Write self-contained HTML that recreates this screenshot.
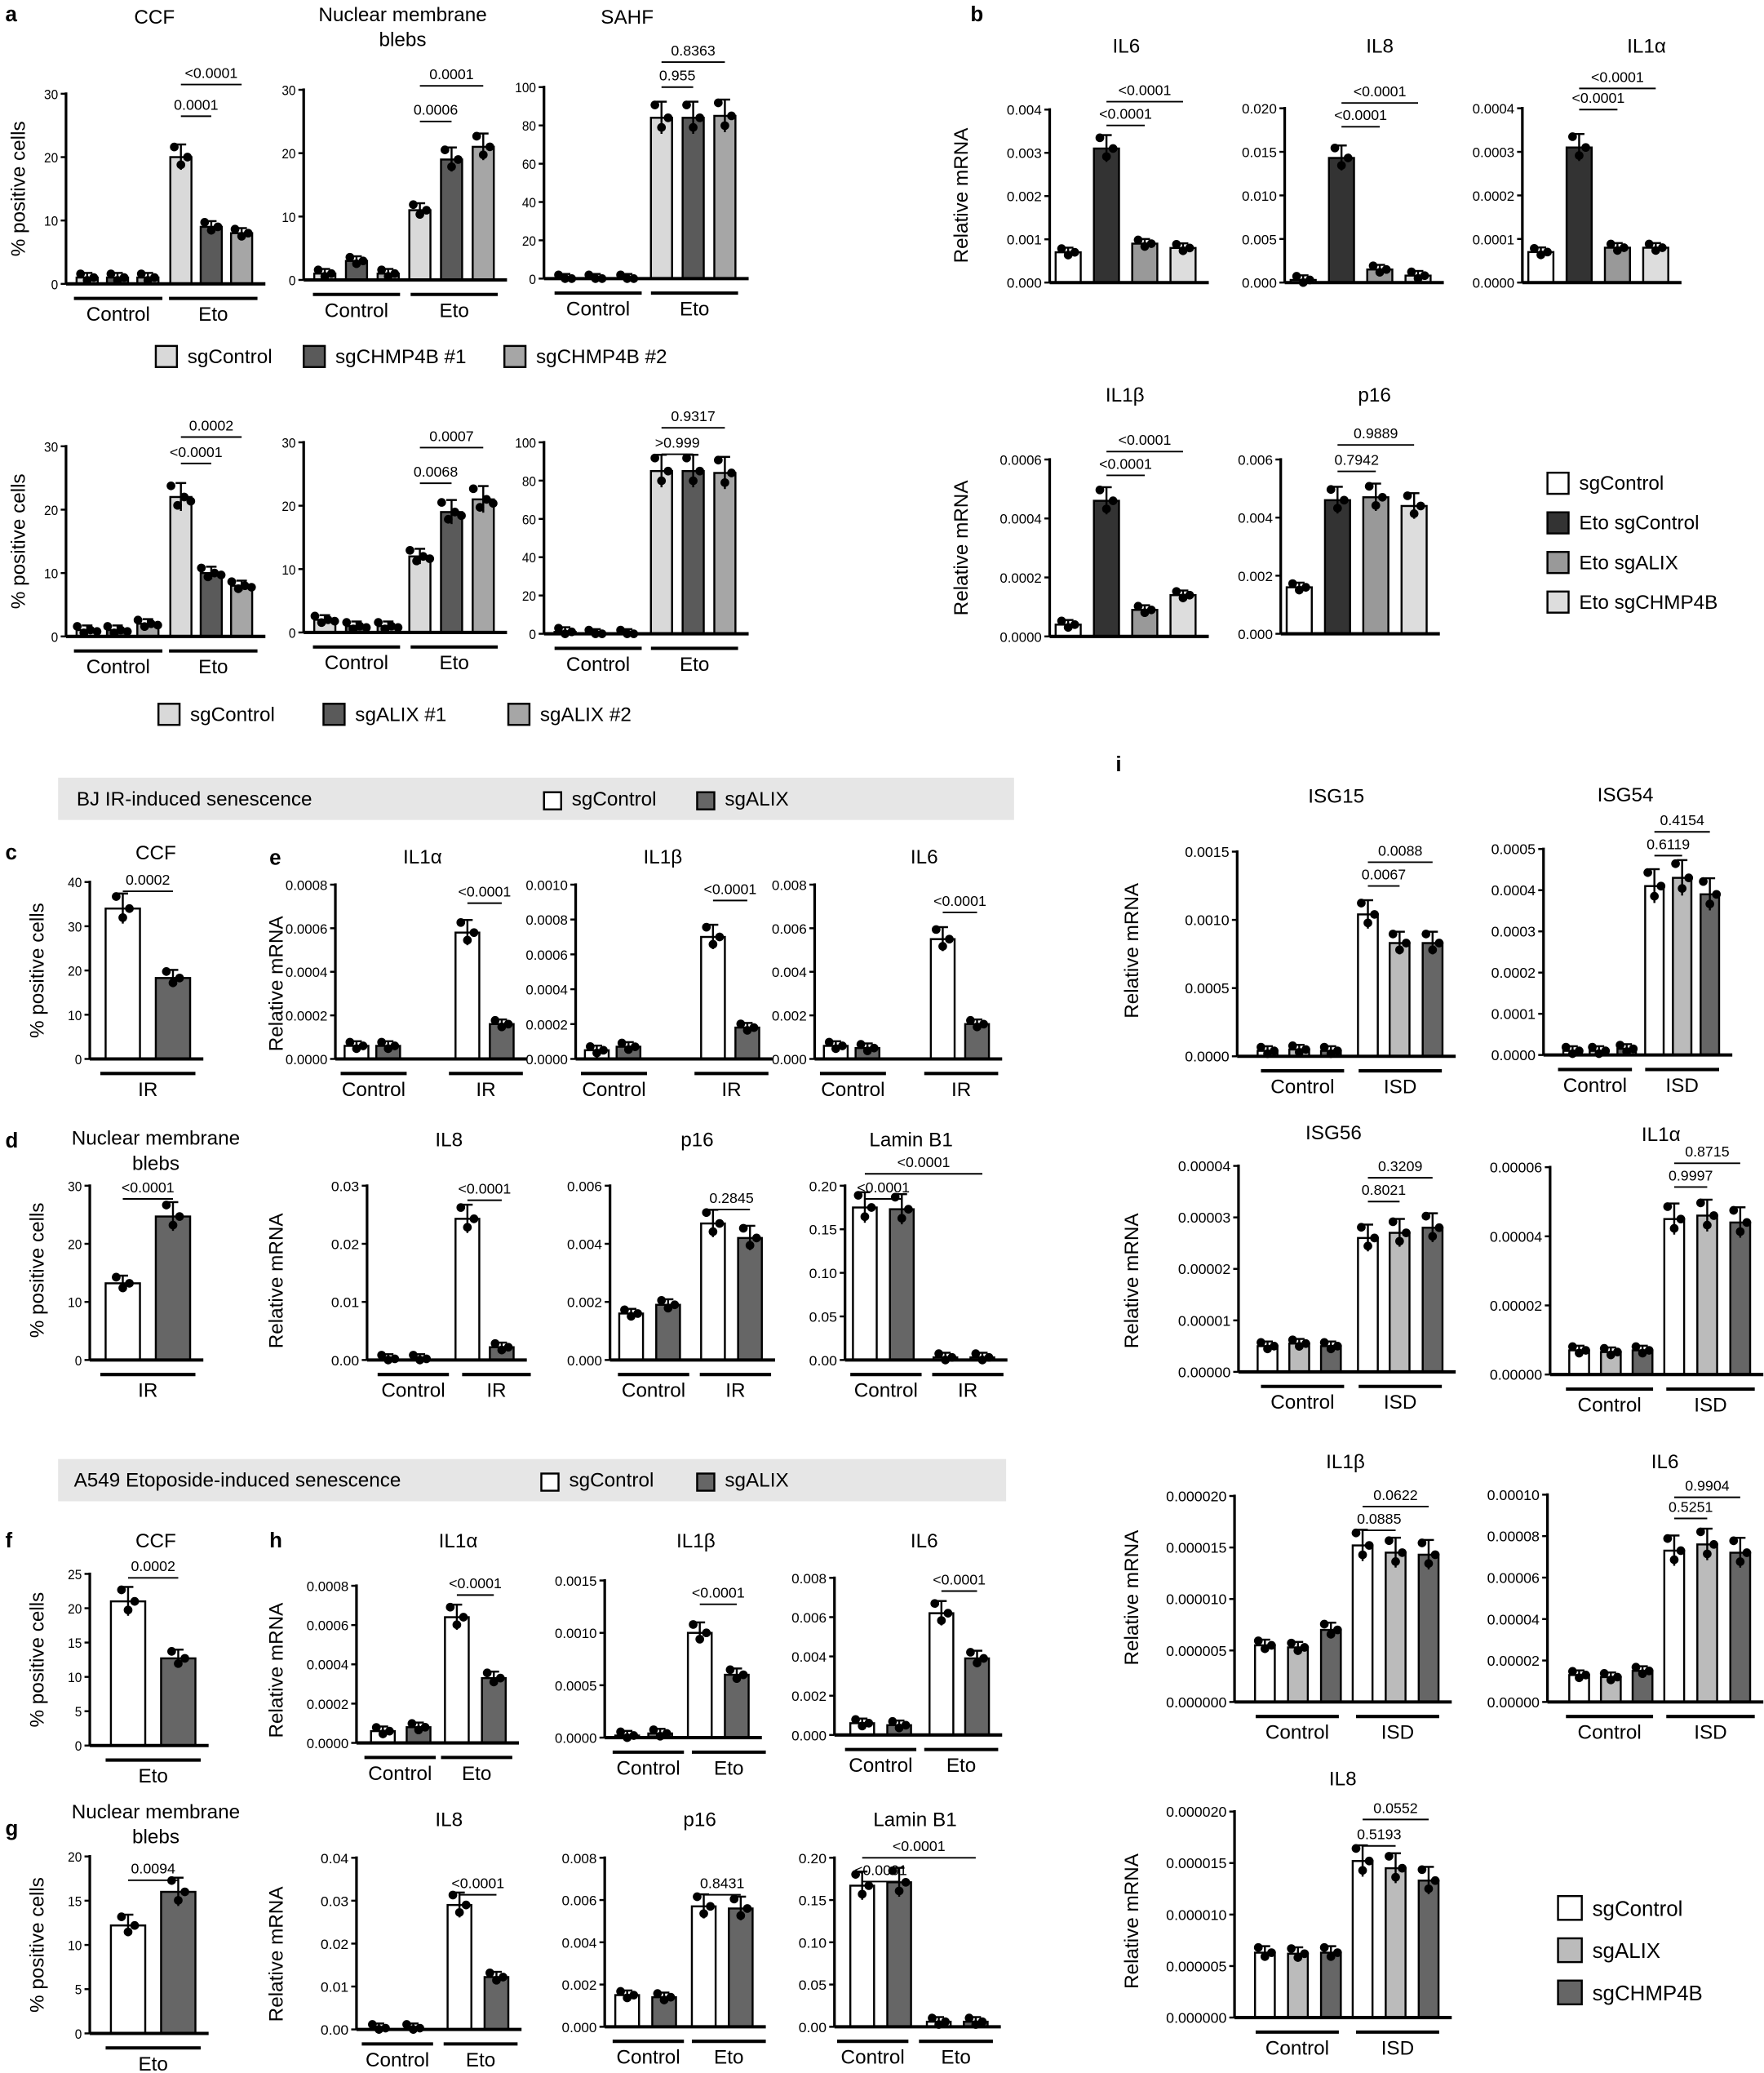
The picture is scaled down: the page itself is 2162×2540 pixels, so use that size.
<!DOCTYPE html>
<html><head><meta charset="utf-8"><style>
html,body{margin:0;padding:0;background:#fff}
svg{display:block}
text{font-family:"Liberation Sans Narrow","Liberation Sans",sans-serif;fill:#000}
</style></head><body>
<svg id="s" width="2162" height="2540" viewBox="0 0 1336 1570" preserveAspectRatio="none" xmlns="http://www.w3.org/2000/svg"></svg>
<script>
const S=document.getElementById('s');let h='';
function T(x,y,t,sz,anc,extra){h+=`<text x="${x}" y="${y}" font-size="${sz}" text-anchor="${anc||'middle'}" ${extra||''}>${t}</text>`;}
function L(x1,y1,x2,y2,w){h+=`<line x1="${x1}" y1="${y1}" x2="${x2}" y2="${y2}" stroke="#000" stroke-width="${w||1.5}"/>`;}
function R(x,y,w,hh,f){h+=`<rect x="${x}" y="${y}" width="${w}" height="${hh}" fill="${f}" stroke="#000" stroke-width="1.5"/>`;}
function C(x,y){h+=`<circle cx="${x}" cy="${y}" r="3.3" fill="#000"/>`;}
function P(o){
  const sc=v=>o.y0-(o.y0-o.y1)*v/o.max;
  const n=o.ticks.length;
  o.ticks.forEach((t,i)=>{const y=o.y0-(o.y0-o.y1)*i/(n-1);L(o.ax-4,y,o.ax,y,1.5);
    const ex=o.fs?'':`textLength="${(t.length*5.3).toFixed(1)}" lengthAdjust="spacingAndGlyphs"`;
    T(o.ax-6,y+4,t,o.fs||10.5,'end',ex);});
  o.xs.forEach((x,i)=>{const v=o.vals[i];const y=sc(v);const bw=o.bw;
    const e=Math.max((o.y0-y)*0.1,3.5);
    if(o.y0-y>1) R(x-bw/2,y,bw,o.y0-y,o.cols[i%o.cols.length]);
    L(x,y-e,x,Math.min(y+e,o.y0),1.5);L(x-4,y-e,x+4,y-e,1.5);
    const nd=o.nd||3;for(let k=0;k<nd;k++){const dx=(k-(nd-1)/2)*5;const dy=[-e*0.8,e*0.6,0,e*0.3][k%4];C(x+dx,Math.min(y+dy,o.y0));}
  });
  L(o.ax,o.y0,o.ax,o.y1-1,2);
  L(o.ax,o.y0,o.xs[o.xs.length-1]+o.bw/2+10,o.y0,2.5);
  (o.groups||[]).forEach(g=>{L(g[0],o.y0+11,g[1],o.y0+11,2.5);T((g[0]+g[1])/2,o.y0+28,g[2],15);});
  (o.sigs||[]).forEach(s=>{L(s[0],s[2],s[1],s[2],1.2);T((s[0]+s[1])/2,s[2]-5,s[3],11);});
  if(o.title){const ts=o.title.split('|');ts.forEach((t,i)=>T(o.tx,o.ty+i*19,t,15));}
}
function YL(x,y,t,sz){T(x,y,t,sz||15,'middle',`transform="rotate(-90 ${x} ${y})"`);}
function LEG(x,y,c,t,sz,s){R(x,y-s+3,s,s,c);T(x+s+8,y,t,sz||15,'start');}
[['a',4,16],['b',735,16],['c',4,651],['d',4,869],['e',204,655],['f',4,1172],['g',4,1390],['h',204,1172],['i',845,584]].forEach(a=>T(a[1],a[2],a[0],16,'start','font-weight="bold" style="font-family:Liberation Sans,sans-serif"'));
const A=['#d9d9d9','#5a5a5a','#a6a6a6'];
P({ax:50,y0:215,y1:71,max:30,ticks:['0','10','20','30'],xs:[66,89,112,137,160,183],vals:[1,1,1,20,9,8],cols:A,bw:16,nd:3,groups:[[56,123,'Control'],[128,195,'Eto']],sigs:[[137,160,88,'0.0001'],[137,183,64,'&lt;0.0001']],title:'CCF',tx:117,ty:18});
P({ax:230,y0:212,y1:68,max:30,ticks:['0','10','20','30'],xs:[246,270,294,318,342,366],vals:[1,3,1,11,19,21],cols:A,bw:16,groups:[[237,303,'Control'],[311,377,'Eto']],sigs:[[318,342,92,'0.0006'],[318,366,65,'0.0001']],title:'Nuclear membrane|blebs',tx:305,ty:16});
P({ax:412,y0:211,y1:66,max:100,ticks:['0','20','40','60','80','100'],xs:[428,451,475,501,525,549],vals:[0,0,0,84,84,85],cols:A,bw:16,groups:[[420,486,'Control'],[493,559,'Eto']],sigs:[[501,525,66,'0.955'],[501,549,47,'0.8363']],title:'SAHF',tx:475,ty:18});
LEG(118,275,A[0],'sgControl',15,16);LEG(230,275,A[1],'sgCHMP4B #1',15,16);LEG(382,275,A[2],'sgCHMP4B #2',15,16);
YL(19,143,'% positive cells',15);
P({ax:50,y0:482,y1:338,max:30,ticks:['0','10','20','30'],xs:[66,89,112,137,160,183],vals:[1,1,2,22,10,8],cols:A,bw:16,nd:4,groups:[[56,123,'Control'],[128,195,'Eto']],sigs:[[137,160,351,'&lt;0.0001'],[137,183,331,'0.0002']]});
P({ax:230,y0:479,y1:335,max:30,ticks:['0','10','20','30'],xs:[246,270,294,318,342,366],vals:[2,1,1,12,19,21],cols:A,bw:16,nd:4,groups:[[237,303,'Control'],[311,377,'Eto']],sigs:[[318,342,366,'0.0068'],[318,366,339,'0.0007']]});
P({ax:412,y0:480,y1:335,max:100,ticks:['0','20','40','60','80','100'],xs:[428,451,475,501,525,549],vals:[1,0,0,85,85,84],cols:A,bw:16,groups:[[420,486,'Control'],[493,559,'Eto']],sigs:[[501,525,344,'&gt;0.999'],[501,549,324,'0.9317']]});
LEG(120,546,A[0],'sgControl',15,16);LEG(245,546,A[1],'sgALIX #1',15,16);LEG(385,546,A[2],'sgALIX #2',15,16);
YL(19,410,'% positive cells',15);
const B=['#fff','#333','#999','#ddd'];
P({ax:795,y0:214,y1:83,max:0.004,ticks:['0.000','0.001','0.002','0.003','0.004'],xs:[809,838,867,896],vals:[.0007,.0031,.0009,.0008],cols:B,bw:19,sigs:[[838,867,95,'&lt;0.0001'],[838,896,77,'&lt;0.0001']],title:'IL6',tx:853,ty:40});
P({ax:973,y0:214,y1:82,max:0.02,ticks:['0.000','0.005','0.010','0.015','0.020'],xs:[987,1016,1045,1074],vals:[.0003,.0143,.0015,.0008],cols:B,bw:19,sigs:[[1016,1045,96,'&lt;0.0001'],[1016,1074,78,'&lt;0.0001']],title:'IL8',tx:1045,ty:40});
P({ax:1153,y0:214,y1:82,max:0.0004,ticks:['0.0000','0.0001','0.0002','0.0003','0.0004'],xs:[1167,1196,1225,1254],vals:[.00007,.00031,.00008,.00008],cols:B,bw:19,sigs:[[1196,1225,83,'&lt;0.0001'],[1196,1254,67,'&lt;0.0001']],title:'IL1α',tx:1247,ty:40});
YL(733,148,'Relative mRNA',15);
P({ax:795,y0:482,y1:348,max:0.0006,ticks:['0.0000','0.0002','0.0004','0.0006'],xs:[809,838,867,896],vals:[.00004,.00046,.00009,.00014],cols:B,bw:19,sigs:[[838,867,360,'&lt;0.0001'],[838,896,342,'&lt;0.0001']],title:'IL1β',tx:852,ty:304});
P({ax:970,y0:480,y1:348,max:0.006,ticks:['0.000','0.002','0.004','0.006'],xs:[984,1013,1042,1071],vals:[.0016,.0046,.0047,.0044],cols:B,bw:19,sigs:[[1013,1042,357,'0.7942'],[1013,1071,337,'0.9889']],title:'p16',tx:1041,ty:304});
YL(733,415,'Relative mRNA',15);
LEG(1172,371,B[0],'sgControl',15,16);LEG(1172,401,B[1],'Eto sgControl',15,16);LEG(1172,431,B[2],'Eto sgALIX',15,16);LEG(1172,461,B[3],'Eto sgCHMP4B',15,16);
const W=['#fff','#666'];
h+=`<rect x="44" y="589" width="724" height="32" fill="#e6e6e6"/>`;
T(58,610,'BJ IR-induced senescence',15,'start');LEG(412,610,'#fff','sgControl',15,13);LEG(528,610,'#666','sgALIX',15,13);
h+=`<rect x="44" y="1105" width="718" height="32" fill="#e6e6e6"/>`;
T(56,1126,'A549 Etoposide-induced senescence',15,'start');LEG(410,1126,'#fff','sgControl',15,13);LEG(528,1126,'#666','sgALIX',15,13);
P({ax:68,y0:802,y1:668,max:40,ticks:['0','10','20','30','40'],xs:[93,131],vals:[34,18.3],cols:W,bw:26,groups:[[76,148,'IR']],sigs:[[93,131,675,'0.0002']],title:'CCF',tx:118,ty:651});
YL(33,735,'% positive cells',15);
P({ax:68,y0:1030,y1:898,max:30,ticks:['0','10','20','30'],xs:[93,131],vals:[13.2,24.7],cols:W,bw:26,groups:[[76,148,'IR']],sigs:[[93,131,908,'&lt;0.0001']],title:'Nuclear membrane|blebs',tx:118,ty:867});
YL(33,962,'% positive cells',15);
P({ax:254,y0:802,y1:670,max:0.0008,ticks:['0.0000','0.0002','0.0004','0.0006','0.0008'],xs:[270,294,354,380],vals:[.00006,.00006,.00058,.00016],cols:W,bw:18,groups:[[258,308,'Control'],[340,396,'IR']],sigs:[[354,380,684,'&lt;0.0001']],title:'IL1α',tx:320,ty:654});
P({ax:436,y0:802,y1:670,max:0.001,ticks:['0.0000','0.0002','0.0004','0.0006','0.0008','0.0010'],xs:[452,476,540,566],vals:[.00005,.00007,.0007,.00018],cols:W,bw:18,groups:[[440,490,'Control'],[526,582,'IR']],sigs:[[540,566,682,'&lt;0.0001']],title:'IL1β',tx:502,ty:654});
P({ax:617,y0:802,y1:670,max:0.008,ticks:['0.000','0.002','0.004','0.006','0.008'],xs:[633,657,714,740],vals:[.0006,.0005,.0055,.0016],cols:W,bw:18,groups:[[621,671,'Control'],[700,756,'IR']],sigs:[[714,740,691,'&lt;0.0001']],title:'IL6',tx:700,ty:654});
YL(214,745,'Relative mRNA',15);
P({ax:278,y0:1030,y1:898,max:0.03,ticks:['0.00','0.01','0.02','0.03'],xs:[294,318,354,380],vals:[.0002,.0002,.0243,.0022],cols:W,bw:18,groups:[[286,340,'Control'],[350,402,'IR']],sigs:[[354,380,909,'&lt;0.0001']],title:'IL8',tx:340,ty:868});
P({ax:462,y0:1030,y1:898,max:0.006,ticks:['0.000','0.002','0.004','0.006'],xs:[478,506,540,568],vals:[.0016,.0019,.0047,.0042],cols:W,bw:18,groups:[[468,522,'Control'],[530,584,'IR']],sigs:[[540,568,916,'0.2845']],title:'p16',tx:528,ty:868});
P({ax:640,y0:1030,y1:898,max:0.2,ticks:['0.00','0.05','0.10','0.15','0.20'],xs:[655,683,716,744],vals:[.175,.173,.003,.003],cols:W,bw:18,groups:[[644,698,'Control'],[706,760,'IR']],sigs:[[655,683,908,'&lt;0.0001'],[655,744,889,'&lt;0.0001']],title:'Lamin B1',tx:690,ty:868});
YL(214,970,'Relative mRNA',15);
P({ax:68,y0:1322,y1:1192,max:25,ticks:['0','5','10','15','20','25'],xs:[97,135],vals:[21,12.7],cols:W,bw:26,groups:[[80,152,'Eto']],sigs:[[97,135,1195,'0.0002']],title:'CCF',tx:118,ty:1172});
YL(33,1257,'% positive cells',15);
P({ax:68,y0:1540,y1:1406,max:20,ticks:['0','5','10','15','20'],xs:[97,135],vals:[12.2,16],cols:W,bw:26,groups:[[80,152,'Eto']],sigs:[[97,135,1424,'0.0094']],title:'Nuclear membrane|blebs',tx:118,ty:1377});
YL(33,1473,'% positive cells',15);
P({ax:270,y0:1320,y1:1201,max:0.0008,ticks:['0.0000','0.0002','0.0004','0.0006','0.0008'],xs:[290,317,346,374],vals:[.00006,.00008,.00064,.00033],cols:W,bw:18,groups:[[276,330,'Control'],[334,388,'Eto']],sigs:[[346,374,1208,'&lt;0.0001']],title:'IL1α',tx:347,ty:1172});
P({ax:458,y0:1316,y1:1197,max:0.0015,ticks:['0.0000','0.0005','0.0010','0.0015'],xs:[475,500,530,558],vals:[.00002,.00004,.001,.0006],cols:W,bw:18,groups:[[464,518,'Control'],[524,580,'Eto']],sigs:[[530,558,1215,'&lt;0.0001']],title:'IL1β',tx:527,ty:1172});
P({ax:632,y0:1314,y1:1195,max:0.008,ticks:['0.000','0.002','0.004','0.006','0.008'],xs:[653,681,713,740],vals:[.0006,.0005,.0062,.0039],cols:W,bw:18,groups:[[640,694,'Control'],[700,756,'Eto']],sigs:[[713,740,1205,'&lt;0.0001']],title:'IL6',tx:700,ty:1172});
YL(214,1265,'Relative mRNA',15);
P({ax:270,y0:1537,y1:1407,max:0.04,ticks:['0.00','0.01','0.02','0.03','0.04'],xs:[287,313,348,376],vals:[.0003,.0003,.029,.0122],cols:W,bw:18,groups:[[274,328,'Control'],[336,392,'Eto']],sigs:[[348,376,1435,'&lt;0.0001']],title:'IL8',tx:340,ty:1383});
P({ax:458,y0:1535,y1:1407,max:0.008,ticks:['0.000','0.002','0.004','0.006','0.008'],xs:[475,503,533,561],vals:[.0015,.0014,.0057,.0056],cols:W,bw:18,groups:[[464,518,'Control'],[524,580,'Eto']],sigs:[[533,561,1435,'0.8431']],title:'p16',tx:530,ty:1383});
P({ax:632,y0:1535,y1:1407,max:0.2,ticks:['0.00','0.05','0.10','0.15','0.20'],xs:[653,681,711,739],vals:[.167,.171,.006,.006],cols:W,bw:18,groups:[[634,688,'Control'],[696,752,'Eto']],sigs:[[653,681,1425,'&lt;0.0001'],[653,739,1407,'&lt;0.0001']],title:'Lamin B1',tx:693,ty:1383});
YL(214,1480,'Relative mRNA',15);
const I=['#fff','#bbb','#666'];
const XL=[960,984,1008,1036,1060,1085], XR=[1196,1220,1244,1268,1293,1318];
const GL=[[955,1018,'Control'],[1029,1092,'ISD']], GR=[[1186,1252,'Control'],[1262,1329,'ISD']];
P({ax:937,y0:800,y1:645,max:0.0015,ticks:['0.0000','0.0005','0.0010','0.0015'],xs:XL,vals:[.00004,.00005,.00004,.00104,.00083,.00083],cols:I,bw:15,groups:GL,sigs:[[1036,1060,671,'0.0067'],[1036,1085,653,'0.0088']],title:'ISG15',tx:1012,ty:608,fs:11});
P({ax:1169,y0:799,y1:643,max:0.0005,ticks:['0.0000','0.0001','0.0002','0.0003','0.0004','0.0005'],xs:[1191,1211,1232,1253,1274,1295],vals:[.00001,.00001,.000015,.00041,.00043,.00039],cols:I,bw:14,groups:[[1180,1236,'Control'],[1246,1302,'ISD']],sigs:[[1253,1274,648,'0.6119'],[1253,1295,630,'0.4154']],title:'ISG54',tx:1231,ty:607,fs:11});
YL(862,720,'Relative mRNA',15);
P({ax:938,y0:1039,y1:883,max:0.00004,ticks:['0.00000','0.00001','0.00002','0.00003','0.00004'],xs:XL,vals:[.000005,.0000055,.000005,.000026,.000027,.000028],cols:I,bw:15,groups:GL,sigs:[[1036,1060,910,'0.8021'],[1036,1085,892,'0.3209']],title:'ISG56',tx:1010,ty:863,fs:11});
P({ax:1174,y0:1041,y1:884,max:0.00006,ticks:['0.00000','0.00002','0.00004','0.00006'],xs:XR,vals:[.000007,.0000065,.000007,.000045,.000046,.000044],cols:I,bw:15,groups:GR,sigs:[[1268,1293,899,'0.9997'],[1268,1318,881,'0.8715']],title:'IL1α',tx:1258,ty:864,fs:11});
YL(862,970,'Relative mRNA',15);
P({ax:935,y0:1289,y1:1133,max:0.00002,ticks:['0.000000','0.000005','0.000010','0.000015','0.000020'],xs:[958,983,1008,1032,1057,1082],vals:[.0000055,.0000053,.000007,.0000152,.0000145,.0000143],cols:I,bw:15,groups:[[951,1014,'Control'],[1027,1090,'ISD']],sigs:[[1032,1057,1159,'0.0885'],[1032,1082,1141,'0.0622']],title:'IL1β',tx:1019,ty:1112,fs:11});
P({ax:1172,y0:1289,y1:1132,max:0.0001,ticks:['0.00000','0.00002','0.00004','0.00006','0.00008','0.00010'],xs:XR,vals:[.000013,.000012,.000015,.000073,.000076,.000072],cols:I,bw:15,groups:GR,sigs:[[1268,1293,1150,'0.5251'],[1268,1318,1134,'0.9904']],title:'IL6',tx:1261,ty:1112,fs:11});
YL(862,1210,'Relative mRNA',15);
P({ax:935,y0:1528,y1:1372,max:0.00002,ticks:['0.000000','0.000005','0.000010','0.000015','0.000020'],xs:[958,983,1008,1032,1057,1082],vals:[.0000063,.0000062,.0000063,.0000152,.0000145,.0000133],cols:I,bw:15,groups:[[951,1014,'Control'],[1027,1090,'ISD']],sigs:[[1032,1057,1398,'0.5193'],[1032,1082,1378,'0.0552']],title:'IL8',tx:1017,ty:1352,fs:11});
YL(862,1455,'Relative mRNA',15);
LEG(1180,1451,I[0],'sgControl',16,18);LEG(1180,1483,I[1],'sgALIX',16,18);LEG(1180,1515,I[2],'sgCHMP4B',16,18);
S.innerHTML=h;
</script>
</body></html>
